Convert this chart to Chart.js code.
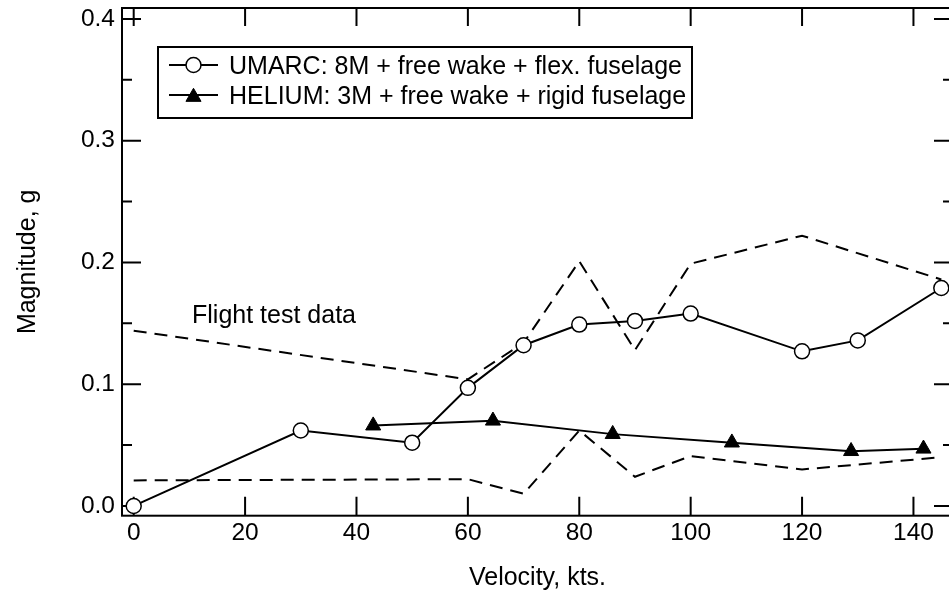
<!DOCTYPE html>
<html lang="en">
<head>
  <meta charset="UTF-8" />
  <title>Magnitude vs velocity</title>
  <script src="https://cdn.jsdelivr.net/npm/chart.js"></script>
  <style>
    html, body { margin: 0; padding: 0; background: #fff; overflow: hidden; }
    #wrap { width: 949px; height: 598px; overflow: hidden; position: relative; }
    canvas { display: block; }
  </style>
</head>
<body>
  <div id="wrap">
    <canvas id="chart" width="956" height="598" style="width:956px;height:598px"></canvas>
  </div>

  <script>
    // data
    const umarcVel = [0, 30, 50, 60, 70, 80, 90, 100, 120, 130, 145];
    const umarcMag = [0.000, 0.062, 0.052, 0.097, 0.132, 0.149, 0.152, 0.158, 0.127, 0.136, 0.179];

    const heliumVel = [43, 64.5, 86, 107.4, 128.8, 141.8];
    const heliumMag = [0.066, 0.070, 0.059, 0.052, 0.045, 0.047];

    const flightVel = [0, 60, 70, 80, 90, 100, 120, 145];
    const flightUpper = [0.144, 0.104, 0.134, 0.201, 0.128, 0.199, 0.222, 0.186];
    const flightLower = [0.021, 0.022, 0.010, 0.062, 0.024, 0.041, 0.030, 0.040];

    const xTicks = [0, 20, 40, 60, 80, 100, 120, 140];
    const yTicks = [0.0, 0.1, 0.2, 0.3, 0.4];
    const yMinorTicks = [0.05, 0.15, 0.25, 0.35];

    const umarcLabel = 'UMARC: 8M + free wake + flex. fuselage';
    const heliumLabel = 'HELIUM: 3M + free wake + rigid fuselage';
    const flightLabel = 'Flight test data';

    const FONT = 'Liberation Sans, Arial, Helvetica, sans-serif';
    const tickFont = { family: FONT, size: 24.5 };
    const font = { family: FONT, size: 25 };

    const pts = (xs, ys) => xs.map((x, i) => ({ x: x, y: ys[i] }));

    // frame + inward ticks on all four sides
    const framePlugin = {
      id: 'frame',
      beforeDatasetsDraw(chart) {
        const { ctx, chartArea: a, scales: { x, y } } = chart;
        ctx.save();
        ctx.strokeStyle = '#000';
        ctx.lineWidth = 2;
        ctx.strokeRect(a.left, a.top, a.right - a.left, a.bottom - a.top);
        ctx.beginPath();
        xTicks.forEach(v => {
          const px = x.getPixelForValue(v);
          ctx.moveTo(px, a.bottom); ctx.lineTo(px, a.bottom - 19);
          ctx.moveTo(px, a.top); ctx.lineTo(px, a.top + 18);
        });
        yTicks.forEach(v => {
          const py = y.getPixelForValue(v);
          ctx.moveTo(a.left, py); ctx.lineTo(a.left + 19, py);
          ctx.moveTo(a.right, py); ctx.lineTo(a.right - 19, py);
        });
        yMinorTicks.forEach(v => {
          const py = y.getPixelForValue(v);
          ctx.moveTo(a.left, py); ctx.lineTo(a.left + 10, py);
          ctx.moveTo(a.right, py); ctx.lineTo(a.right - 10, py);
        });
        ctx.stroke();
        ctx.restore();
      }
    };

    // boxed legend inside the plot and the flight test label
    const notesPlugin = {
      id: 'notes',
      afterDraw(chart) {
        const ctx = chart.ctx;
        ctx.save();
        ctx.fillStyle = '#fff';
        ctx.fillRect(158, 47, 534, 71);
        ctx.strokeStyle = '#000';
        ctx.lineWidth = 2;
        ctx.strokeRect(158, 47, 534, 71);

        const rows = [chart.data.datasets[0], chart.data.datasets[1]];
        rows.forEach((ds, i) => {
          const cy = 65 + i * 30;
          ctx.strokeStyle = '#000';
          ctx.lineWidth = ds.borderWidth;
          ctx.beginPath();
          ctx.moveTo(169, cy); ctx.lineTo(218, cy);
          ctx.stroke();
          ctx.fillStyle = ds.pointBackgroundColor;
          ctx.strokeStyle = ds.pointBorderColor;
          ctx.lineWidth = ds.pointBorderWidth;
          Chart.helpers.drawPoint(ctx, {
            pointStyle: ds.pointStyle,
            radius: ds.pointRadius,
            borderWidth: ds.pointBorderWidth,
            rotation: 0
          }, 193.5, ds.pointStyle === 'triangle' ? cy + 2 : cy);
          ctx.fillStyle = '#000';
          ctx.font = font.size + 'px ' + FONT;
          ctx.textBaseline = 'alphabetic';
          ctx.fillText(ds.label, 229, cy + 9);
        });

        ctx.fillStyle = '#000';
        ctx.font = font.size + 'px ' + FONT;
        ctx.fillText(flightLabel, 192, 323);
        ctx.restore();
      }
    };

    new Chart(document.getElementById('chart'), {
      type: 'scatter',
      data: {
        datasets: [
          {
            label: umarcLabel,
            data: pts(umarcVel, umarcMag),
            showLine: true,
            borderColor: '#000',
            borderWidth: 2,
            pointStyle: 'circle',
            pointRadius: 7.5,
            pointBackgroundColor: '#fff',
            pointBorderColor: '#000',
            pointBorderWidth: 1.5
          },
          {
            label: heliumLabel,
            data: pts(heliumVel, heliumMag),
            showLine: true,
            borderColor: '#000',
            borderWidth: 2,
            pointStyle: 'triangle',
            pointRadius: 8.7,
            pointBackgroundColor: '#000',
            pointBorderColor: '#000',
            pointBorderWidth: 1
          },
          {
            label: flightLabel + ' (upper)',
            data: pts(flightVel, flightUpper),
            showLine: true,
            borderColor: '#000',
            borderWidth: 2,
            borderDash: [13, 8],
            pointRadius: 0
          },
          {
            label: flightLabel + ' (lower)',
            data: pts(flightVel, flightLower),
            showLine: true,
            borderColor: '#000',
            borderWidth: 2,
            borderDash: [13, 8],
            pointRadius: 0
          }
        ]
      },
      options: {
        responsive: false,
        animation: false,
        layout: { autoPadding: false, padding: { left: 0, right: 3, top: 8, bottom: 0 } },
        plugins: {
          legend: { display: false },
          tooltip: { enabled: false }
        },
        scales: {
          x: {
            type: 'linear',
            min: -2.1,
            max: 147.1,
            afterBuildTicks: s => { s.ticks = xTicks.map(v => ({ value: v })); },
            afterFit: s => { s.height = 82.3; s.paddingLeft = 0; s.paddingRight = 0; },
            grid: { display: false, drawTicks: false },
            border: { display: false },
            ticks: { color: '#000', font: tickFont, padding: 3, maxRotation: 0, autoSkip: false },
            title: { display: true, text: 'Velocity, kts.', color: '#000', font: font, padding: { top: 0, bottom: 5 } }
          },
          y: {
            type: 'linear',
            min: -0.008,
            max: 0.409,
            afterBuildTicks: s => { s.ticks = yTicks.map(v => ({ value: v })); },
            afterFit: s => { s.width = 122; s.paddingTop = 0; s.paddingBottom = 0; },
            grid: { display: false, drawTicks: false },
            border: { display: false },
            ticks: { color: '#000', font: tickFont, padding: 7, callback: v => v.toFixed(1) },
            title: { display: true, text: 'Magnitude, g', color: '#000', font: font, padding: { top: 13, bottom: 0 } }
          }
        }
      },
      plugins: [framePlugin, notesPlugin]
    });
  </script>
</body>
</html>
